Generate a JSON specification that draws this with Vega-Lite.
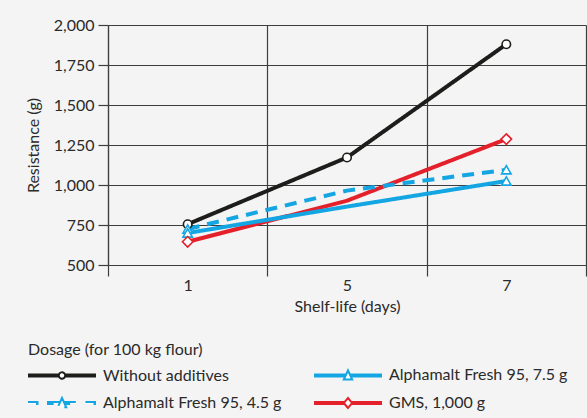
{
  "$schema": "https://vega.github.io/schema/vega-lite/v6.json",
  "width": 478,
  "height": 240,
  "autosize": "none",
  "padding": {"left": 108, "top": 25, "right": 1, "bottom": 153},
  "background": "#f4f4f4",
  "config": {
    "view": {"stroke": null},
    "font": "Lato",
    "axis": {
      "labelFont": "Lato", "titleFont": "Lato",
      "labelFontSize": 16, "titleFontSize": 16, "titleFontWeight": "normal",
      "labelColor": "#2a2a2a", "titleColor": "#2a2a2a",
      "gridColor": "#3d3d3d", "gridWidth": 1.2, "gridOpacity": 1,
      "tickColor": "#3d3d3d", "tickWidth": 1.2,
      "domainColor": "#3d3d3d", "domainWidth": 1.2
    }
  },
  "data": {
    "values": [
      {"series": "GMS, 1,000 g", "day": "1", "resistance": 645},
      {"series": "GMS, 1,000 g", "day": "5", "resistance": 902},
      {"series": "GMS, 1,000 g", "day": "7", "resistance": 1287},
      {"series": "Alphamalt Fresh 95, 4.5 g", "day": "1", "resistance": 725},
      {"series": "Alphamalt Fresh 95, 4.5 g", "day": "5", "resistance": 965},
      {"series": "Alphamalt Fresh 95, 4.5 g", "day": "7", "resistance": 1095},
      {"series": "Alphamalt Fresh 95, 7.5 g", "day": "1", "resistance": 700},
      {"series": "Alphamalt Fresh 95, 7.5 g", "day": "5", "resistance": 865},
      {"series": "Alphamalt Fresh 95, 7.5 g", "day": "7", "resistance": 1025},
      {"series": "Without additives", "day": "1", "resistance": 755},
      {"series": "Without additives", "day": "5", "resistance": 1172},
      {"series": "Without additives", "day": "7", "resistance": 1880}
    ]
  },
  "encoding": {
    "x": {
      "field": "day", "type": "ordinal", "bandPosition": 0.5,
      "scale": {"type": "band", "paddingInner": 0, "paddingOuter": 0},
      "axis": {
        "title": "Shelf-life (days)", "labelAngle": 0, "tickBand": "extent",
        "grid": true, "tickSize": 11, "labelPadding": 1, "titlePadding": 5
      }
    },
    "y": {
      "field": "resistance", "type": "quantitative",
      "scale": {"domain": [500, 2000], "nice": false, "zero": false},
      "axis": {
        "title": "Resistance (g)", "values": [500, 750, 1000, 1250, 1500, 1750, 2000],
        "format": ",.0f", "grid": true, "tickSize": 10, "labelPadding": 4, "titlePadding": 12
      }
    }
  },
  "layer": [
    {
      "mark": {"type": "line", "strokeWidth": 4, "strokeCap": "butt"},
      "encoding": {
        "color": {
          "field": "series", "type": "nominal",
          "scale": {
            "domain": ["Without additives", "Alphamalt Fresh 95, 7.5 g", "Alphamalt Fresh 95, 4.5 g", "GMS, 1,000 g"],
            "range": ["#1d1d1b", "#14a5e3", "#14a5e3", "#e4202a"]
          },
          "legend": {
            "orient": "none", "legendX": -80, "legendY": 317, "columns": 2, "direction": "horizontal",
            "title": "Dosage (for 100 kg flour)",
            "titleFont": "Lato", "titleFontSize": 16, "titleFontWeight": "normal", "titleColor": "#2a2a2a", "titlePadding": 6,
            "labelFont": "Lato", "labelFontSize": 16, "labelColor": "#2a2a2a", "labelLimit": 400,
            "symbolSize": 400, "symbolOffset": 23, "labelOffset": 30,
            "rowPadding": 8, "columnPadding": 29, "padding": 0, "symbolStrokeWidth": 2,
            "encode": {
              "symbols": {
                "update": {
                  "shape": {"signal": "datum.value === 'Without additives' ? 'M-3.3,-0.1 H-0.32 V0.1 H-3.3 Z M0.32,-0.1 H3.3 V0.1 H0.32 Z M0.32,0 A0.32,0.32 0 1,1 -0.32,0 A0.32,0.32 0 1,1 0.32,0 Z' : datum.value === 'Alphamalt Fresh 95, 7.5 g' ? 'M-3.3,-0.1 H-0.183 L-0.274,0.1 H-3.3 Z M0.183,-0.1 H3.3 V0.1 H0.274 Z M0,-0.5 L0.42,0.42 H-0.42 Z' : datum.value === 'Alphamalt Fresh 95, 4.5 g' ? 'M-3.3,-0.1 H-2.45 V0.1 H-3.3 Z M-1.4,-0.1 H-0.183 L-0.274,0.1 H-1.4 Z M0.183,-0.1 H1.4 V0.1 H0.274 Z M2.45,-0.1 H3.3 V0.1 H2.45 Z M0,-0.5 L0.42,0.42 H-0.42 Z' : 'M-3.3,-0.1 H-0.336 L-0.42,0 L-0.336,0.1 H-3.3 Z M0.336,-0.1 H3.3 V0.1 H0.336 L0.42,0 Z M0,-0.5 L0.42,0 L0,0.5 L-0.42,0 Z'"},
                  "stroke": {"signal": "scale('color', datum.value)"},
                  "fill": {"value": "white"},
                  "strokeWidth": {"value": 2},
                  "strokeDash": {"value": [1, 0]},
                  "opacity": {"value": 1}
                }
              }
            }
          }
        },
        "strokeDash": {
          "field": "series", "type": "nominal",
          "scale": {
            "domain": ["Without additives", "Alphamalt Fresh 95, 7.5 g", "Alphamalt Fresh 95, 4.5 g", "GMS, 1,000 g"],
            "range": [[1, 0], [1, 0], [12, 8], [1, 0]]
          },
          "legend": null
        }
      }
    },
    {
      "transform": [{"filter": "datum.series == 'Without additives'"}],
      "mark": {"type": "point", "shape": "circle", "size": 72, "filled": true, "fill": "white", "stroke": "#1d1d1b", "strokeWidth": 1.6, "opacity": 1}
    },
    {
      "transform": [{"filter": "indexof(datum.series, 'Alphamalt') === 0 && datum.day != '5'"}],
      "mark": {"type": "point", "shape": "triangle-up", "size": 90, "filled": true, "fill": "white", "stroke": "#14a5e3", "strokeWidth": 1.6, "opacity": 1}
    },
    {
      "transform": [{"filter": "datum.series == 'GMS, 1,000 g' && datum.day != '5'"}],
      "mark": {"type": "point", "shape": "diamond", "size": 110, "filled": true, "fill": "white", "stroke": "#e4202a", "strokeWidth": 1.6, "opacity": 1}
    }
  ]
}
